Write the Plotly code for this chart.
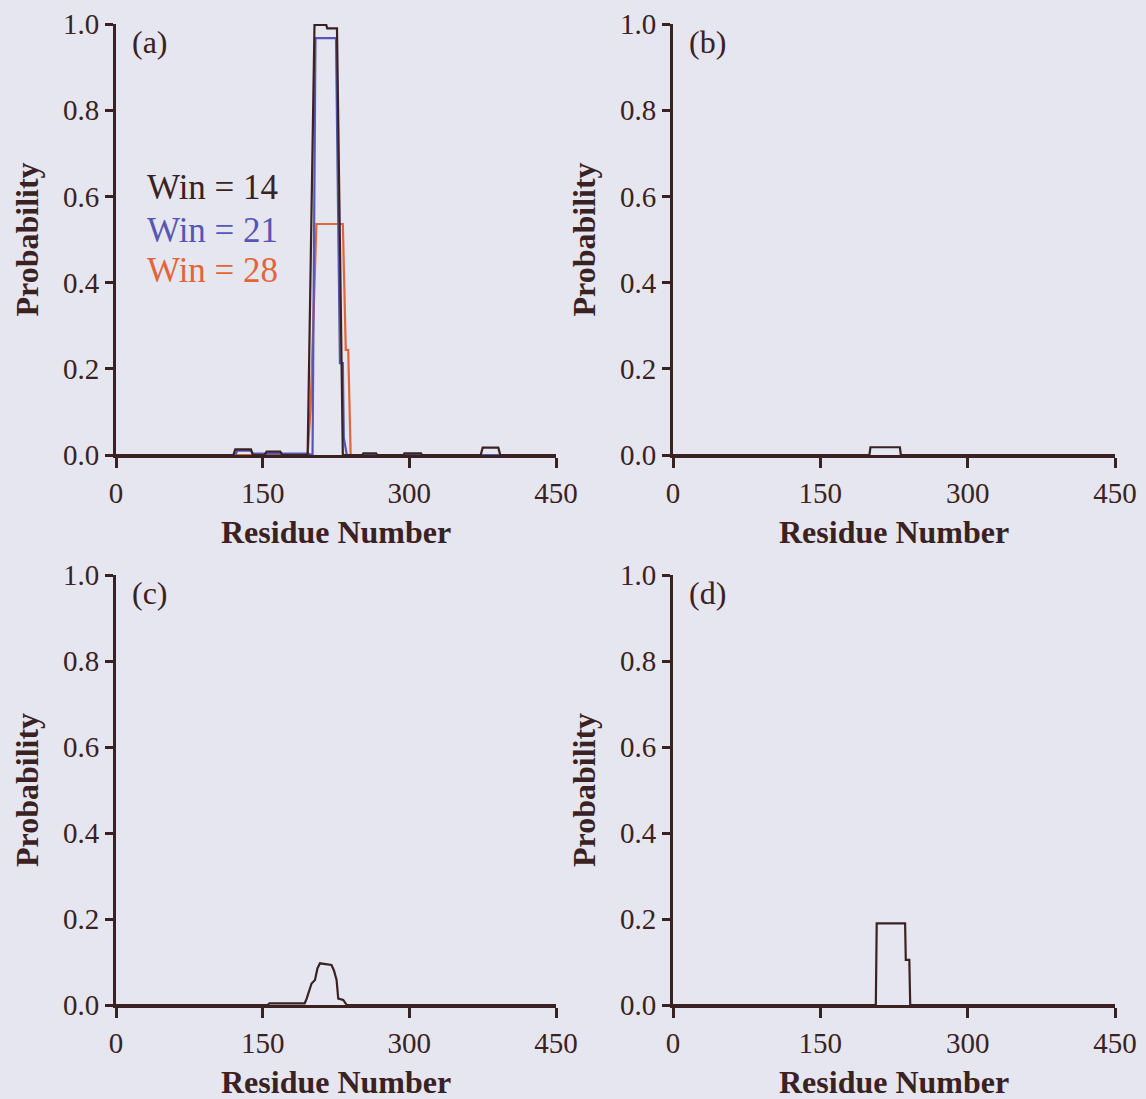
import plotly.graph_objects as go

# ---- data ----
a_win14_x = [0, 120, 122, 138, 140, 152, 154, 168, 170, 196, 203, 215, 216, 226, 232, 252, 253, 266, 267, 294, 295, 312, 313, 373, 375, 391, 393, 450]
a_win14_y = [0, 0, 0.013, 0.013, 0, 0, 0.008, 0.008, 0, 0, 0.998, 0.998, 0.99, 0.99, 0, 0, 0.004, 0.004, 0, 0, 0.004, 0.004, 0, 0, 0.017, 0.017, 0, 0]
a_win21_x = [0, 122, 124, 138, 140, 196, 201, 204, 225, 229, 232, 233, 236, 450]
a_win21_y = [0, 0, 0.01, 0.01, 0.003, 0.003, 0, 0.967, 0.967, 0.213, 0.213, 0.04, 0, 0]
a_win28_x = [0, 196, 199, 205, 232, 235, 237.5, 240, 450]
a_win28_y = [0, 0, 0.11, 0.536, 0.536, 0.244, 0.244, 0, 0]
b_x = [0, 200, 201, 231, 232, 450]
b_y = [0, 0, 0.018, 0.018, 0, 0]
c_x = [0, 155, 157, 193, 195, 200, 203.5, 206, 208.6, 220.4, 222.8, 225.6, 227.3, 232.4, 236, 450]
c_y = [0, 0, 0.004, 0.004, 0.015, 0.05, 0.058, 0.085, 0.097, 0.093, 0.081, 0.058, 0.015, 0.012, 0, 0]
d_x = [0, 206.5, 207.4, 236.3, 237, 240.6, 241.5, 450]
d_y = [0, 0, 0.19, 0.19, 0.105, 0.105, 0, 0]

x_ticks = [0, 150, 300, 450]
y_ticks = [0, 0.2, 0.4, 0.6, 0.8, 1.0]
panel_labels = ["(a)", "(b)", "(c)", "(d)"]
legend_labels = ["Win = 14", "Win = 21", "Win = 28"]

W, H = 1146, 1099
DARK = "#3b2222"
BLUE = "#5656b4"
ORANGE = "#e2653a"
BG = "#e6e6f0"
FONT = "Liberation Serif"

fig = go.Figure()

# panel geometry (pixels): left, right, top, bottom
panels = [
    (116, 556, 24, 455),
    (673, 1115, 24, 455),
    (116, 556, 575, 1005),
    (673, 1115, 575, 1005),
]

def add(trace_x, trace_y, idx, color, width=2.2):
    ax = "" if idx == 0 else str(idx + 1)
    fig.add_trace(go.Scatter(x=trace_x, y=trace_y, mode="lines",
                             line=dict(color=color, width=width),
                             xaxis="x" + ax, yaxis="y" + ax, showlegend=False,
                             hoverinfo="skip"))

add(a_win28_x, a_win28_y, 0, ORANGE)
add(a_win21_x, a_win21_y, 0, BLUE)
add(a_win14_x, a_win14_y, 0, DARK)
add(b_x, b_y, 1, DARK)
add(c_x, c_y, 2, DARK)
add(d_x, d_y, 3, DARK)

layout = dict(
    width=W, height=H,
    margin=dict(l=0, r=0, t=0, b=0, autoexpand=False),
    paper_bgcolor=BG, plot_bgcolor=BG,
    font=dict(family=FONT, color=DARK),
    showlegend=False,
)

annotations = []
for i, (l, r, t, b) in enumerate(panels):
    ax = "" if i == 0 else str(i + 1)
    xd = [l / W, r / W]
    yd = [1 - b / H, 1 - t / H]
    layout["xaxis" + ax] = dict(
        domain=xd, range=[0, 450], tickvals=x_ticks, ticktext=[str(v) for v in x_ticks],
        showgrid=False, zeroline=False, showline=True, linecolor=DARK, linewidth=3,
        ticks="outside", ticklen=10, tickwidth=3, tickcolor=DARK,
        tickfont=dict(family=FONT, size=29, color=DARK), automargin=False,
        anchor="y" + ax, fixedrange=True,
    )
    layout["yaxis" + ax] = dict(
        domain=yd, range=[0, 1.0], tickvals=y_ticks, ticktext=["%.1f" % v for v in y_ticks],
        showgrid=False, zeroline=False, showline=True, linecolor=DARK, linewidth=3,
        ticks="outside", ticklen=8, tickwidth=3, tickcolor=DARK,
        tickfont=dict(family=FONT, size=29, color=DARK), automargin=False,
        anchor="x" + ax, fixedrange=True,
    )
    # axis titles
    annotations.append(dict(
        text="<b>Residue Number</b>", xref="paper", yref="paper",
        x=(l + r) / 2 / W, y=1 - (b + 77) / H, showarrow=False,
        font=dict(family=FONT, size=32, color=DARK), xanchor="center", yanchor="middle"))
    annotations.append(dict(
        text="<b>Probability</b>", xref="paper", yref="paper",
        x=(l - 89) / W, y=1 - (t + b) / 2 / H, showarrow=False, textangle=-90,
        font=dict(family=FONT, size=32, color=DARK), xanchor="center", yanchor="middle"))
    annotations.append(dict(
        text=panel_labels[i], xref="paper", yref="paper",
        x=(l + 14) / W, y=1 - (t + 18) / H, showarrow=False,
        font=dict(family=FONT, size=32, color=DARK), xanchor="left", yanchor="middle"))

for lbl, col, yy in zip(legend_labels, [DARK, BLUE, ORANGE], [187, 230, 270]):
    annotations.append(dict(
        text=lbl, xref="paper", yref="paper", x=145 / W, y=1 - yy / H,
        showarrow=False, font=dict(family=FONT, size=35, color=col),
        xanchor="left", yanchor="middle"))

layout["annotations"] = annotations
fig.update_layout(**layout)
fig.write_html("out.html")
